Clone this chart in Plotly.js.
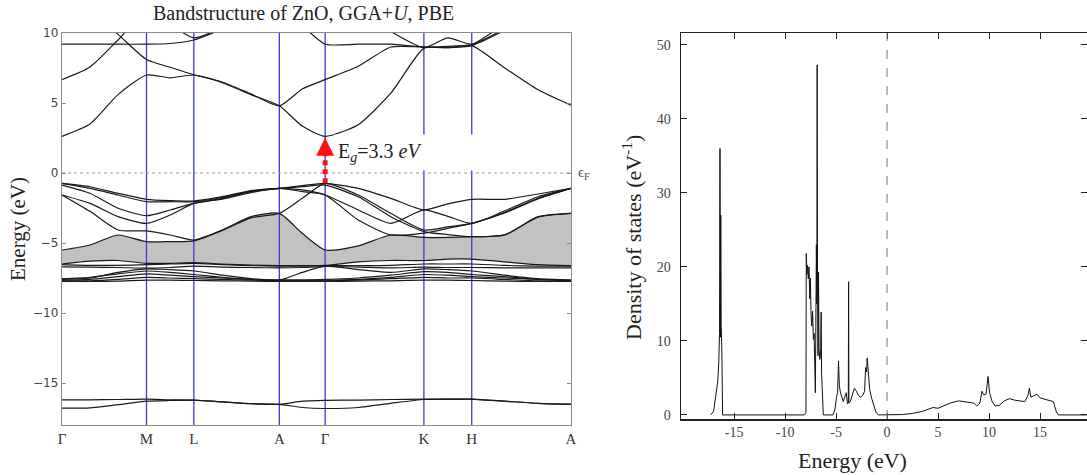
<!DOCTYPE html>
<html><head><meta charset="utf-8">
<script src="https://cdn.plot.ly/plotly-3.0.1.min.js"></script>
<style>html,body{margin:0;padding:0;background:#fff}#chart{width:1087px;height:475px}</style>
</head><body><div id="chart"></div>
<script>
// ---------- Band structure data ----------
const kPoints = [0, 0.166, 0.259, 0.427, 0.517, 0.711, 0.805, 1.0];
const kLabels = ['Γ', 'M', 'L', 'A', 'Γ', 'K', 'H', 'A'];
const kGrid = [0, 0.055, 0.11, 0.166, 0.2125, 0.259, 0.315, 0.371, 0.427, 0.472, 0.517, 0.582, 0.646, 0.711, 0.758, 0.805, 0.87, 0.935, 1.0];
const gammaIndex = 10;

// conduction bands
const bandC1 = [2.62, 3.5, 5.6, 7.0, 6.8, 7.0, 6.45, 5.6, 4.8, 3.35, 2.62, 3.45, 5.7, 8.9, 8.95, 9.1, 7.5, 5.95, 4.85];
const bandC2 = [6.67, 7.57, 9.5, 11.5, 10.6, 9.65, 10.4, 11.5, 11.5, 11.5, 11.5, 11.5, 10.1, 8.95, 9.65, 9.2, 10.3, 11.5, 11.5];
const bandC3 = [9.2, 9.2, 9.2, 9.2, 9.25, 9.5, 10.3, 11.5, 11.5, 10.5, 9.2, 9.2, 9.2, 9.0, 8.95, 9.1, 10.2, 11.5, 11.5];
const bandC4 = [11.5, 11.5, 9.9, 8.1, 7.55, 7.02, 6.5, 5.65, 4.8, 6.0, 6.67, 7.62, 9.0, 9.0, 9.05, 9.17, 10.6, 11.5, 11.5];
// O 2p valence bands
const bandA1 = [-0.74, -0.98, -1.45, -1.88, -1.98, -2.0, -1.69, -1.26, -1.1, -0.9, -0.74, -1.1, -1.81, -2.64, -2.2, -1.88, -1.88, -1.5, -1.1];
const bandA2 = [-1.57, -2.74, -4.07, -4.14, -4.43, -4.79, -4.1, -3.2, -2.88, -1.81, -0.74, -1.57, -2.88, -4.07, -3.85, -3.6, -2.8, -1.8, -1.1];
const bandA3 = [-0.86, -1.45, -2.52, -3.05, -2.64, -2.17, -1.81, -1.33, -1.1, -0.98, -0.86, -1.7, -3.12, -4.19, -4.4, -4.55, -4.4, -3.15, -2.88];
const bandA4 = [-0.74, -1.1, -1.57, -2.05, -2.05, -2.05, -1.75, -1.3, -1.1, -1.21, -1.57, -2.64, -3.6, -2.64, -3.1, -3.6, -2.7, -1.7, -1.1];
const bandA5 = [-1.57, -2.17, -3.12, -3.6, -3.0, -2.17, -1.86, -1.4, -1.1, -1.33, -1.57, -3.36, -4.43, -4.3, -3.95, -3.6, -2.85, -1.85, -1.1];
const bandA6 = [-5.5, -5.14, -4.43, -4.9, -4.9, -4.85, -4.07, -3.12, -2.88, -4.31, -5.5, -5.2, -4.43, -4.6, -4.6, -4.55, -4.43, -3.12, -2.88];
// Zn 3d bands
const bandD1 = [-6.5, -6.3, -6.25, -6.45, -6.45, -6.4, -6.5, -6.58, -6.62, -6.62, -6.6, -6.35, -6.25, -6.25, -6.15, -6.15, -6.35, -6.55, -6.62];
const bandD2 = [-6.55, -6.6, -6.6, -6.55, -6.5, -6.45, -6.55, -6.62, -6.65, -6.65, -6.62, -6.62, -6.6, -6.5, -6.5, -6.5, -6.6, -6.65, -6.65];
const bandD3 = [-6.7, -6.72, -6.75, -6.8, -6.75, -6.65, -6.72, -6.75, -6.78, -6.75, -6.68, -6.72, -6.78, -6.72, -6.75, -6.75, -6.78, -6.78, -6.78];
const bandD4 = [-7.6, -7.5, -7.1, -6.85, -6.9, -7.0, -7.3, -7.55, -7.65, -7.1, -6.65, -6.9, -7.1, -6.85, -6.9, -7.0, -7.3, -7.55, -7.65];
const bandD5 = [-7.55, -7.45, -7.2, -7.0, -7.1, -7.25, -7.45, -7.6, -7.65, -7.65, -7.6, -7.5, -7.3, -7.05, -7.1, -7.25, -7.4, -7.6, -7.65];
const bandD6 = [-7.65, -7.6, -7.4, -7.2, -7.3, -7.4, -7.5, -7.6, -7.65, -7.65, -7.65, -7.6, -7.45, -7.25, -7.3, -7.4, -7.5, -7.6, -7.7];
const bandD7 = [-7.7, -7.7, -7.6, -7.45, -7.5, -7.55, -7.6, -7.65, -7.7, -7.7, -7.7, -7.65, -7.55, -7.45, -7.5, -7.5, -7.6, -7.7, -7.72];
const bandD8 = [-7.75, -7.75, -7.72, -7.65, -7.65, -7.68, -7.7, -7.72, -7.75, -7.75, -7.75, -7.72, -7.7, -7.65, -7.65, -7.68, -7.72, -7.75, -7.75];
// O 2s bands
const bandS1 = [-16.2, -16.2, -16.18, -16.15, -16.2, -16.22, -16.35, -16.48, -16.52, -16.3, -16.24, -16.22, -16.18, -16.15, -16.14, -16.15, -16.3, -16.45, -16.5];
const bandS2 = [-16.8, -16.78, -16.55, -16.3, -16.25, -16.22, -16.35, -16.48, -16.52, -16.75, -16.82, -16.75, -16.45, -16.18, -16.18, -16.15, -16.3, -16.45, -16.52];

const energyRange = [-18, 10];
const energyTicks = [-15, -10, -5, 0, 5, 10];

// ---------- DOS data ----------
const dosEnergy = [-17.3, -17.0, -16.8, -16.6, -16.5, -16.42, -16.38, -16.34, -16.3, -16.26, -16.2, -16.12, -16.0,
  -8.1, -7.95, -7.92, -7.85, -7.8, -7.72, -7.65, -7.58, -7.52, -7.45, -7.38, -7.3, -7.22, -7.15, -7.08, -7.03, -6.98, -6.93, -6.88, -6.85, -6.82, -6.77, -6.72, -6.67, -6.6, -6.52, -6.46, -6.42, -6.36, -6.3, -6.25,
  -5.3, -5.1, -4.95, -4.85, -4.76, -4.68, -4.58, -4.45, -4.3, -4.15, -4.0, -3.88, -3.8, -3.77, -3.74, -3.6, -3.4, -3.2, -3.0, -2.8, -2.6, -2.4, -2.2, -2.1, -2.0, -1.95, -1.88, -1.8, -1.7, -1.5, -1.3, -1.1, -0.85,
  0.9, 1.5, 2.5, 3.5, 4.5, 5.0, 5.5, 6.2, 7.0, 7.5, 8.0, 8.5, 8.8, 9.1, 9.3, 9.5, 9.7, 9.9, 10.05, 10.3, 10.6, 11.0, 11.5, 12.0, 12.5, 13.0, 13.5, 13.8, 13.95, 14.1, 14.4, 14.7, 15.0, 15.5, 16.0, 16.3, 16.6, 16.8, 19.6];
const dosValue = [0, 0.5, 2.5, 4.5, 7, 11, 36, 10.5, 27, 12, 9, 0, 0,
  0, 0.3, 21.8, 19, 20.2, 18.4, 20, 15.7, 18.5, 13.5, 12, 14, 10.2, 11, 5, 3, 12, 23, 15, 47.3, 20, 8, 19.3, 9, 7.5, 8, 13.9, 5.7, 4, 0.5, 0,
  0, 0.8, 2.5, 3.0, 7.3, 4.0, 3.1, 2.4, 1.8, 2.4, 3.0, 1.5, 1.6, 18, 1.6, 1.8, 2.8, 3.6, 3.2, 2.6, 2.4, 2.6, 3.2, 6.4, 5.8, 7.7, 6.5, 5.2, 3.4, 2.2, 1.1, 0.4, 0,
  0, 0.05, 0.2, 0.5, 1.0, 0.9, 1.2, 1.6, 1.9, 1.8, 1.7, 1.6, 1.2, 1.6, 3.2, 2.7, 2.8, 5.2, 3.0, 1.8, 1.2, 1.3, 1.9, 2.2, 2.0, 1.9, 1.8, 2.6, 3.6, 2.4, 2.6, 2.8, 2.3, 2.1, 1.9, 1.8, 0.4, 0, 0];
const dosRange = [-20.2, 19.6];
const dosTickVals = [-15, -10, -5, 0, 5, 10, 15];
const dosTickText = ['-15', '-10', '-5', '0', '5', '10', '15'];
const dosYRange = [-0.55, 51.6];
const dosYTicks = [0, 10, 20, 30, 40, 50];

// ---------- build ----------
const W = 1087, H = 475;
const px = v => v / W, py = v => 1 - v / H;
const SERIF = 'Liberation Serif, Times New Roman, serif';
const SANS = 'DejaVu Sans, Verdana, sans-serif';

const conduction = [bandC1, bandC2, bandC3, bandC4];
const valence = [bandA1, bandA2, bandA3, bandA4, bandA5, bandA6, bandD1, bandD2, bandD3, bandD4, bandD5, bandD6, bandD7, bandD8, bandS1, bandS2];
const vbm = Math.max(...[bandA1, bandA2, bandA3, bandA4, bandA5].map(b => b[gammaIndex]));
const cbm = Math.min(...conduction.map(b => b[gammaIndex]));
const kGamma = kPoints[4];

const traces = [];
traces.push({x: kGrid, y: bandD1, mode: 'lines', line: {width: 0, color: 'rgba(0,0,0,0)', shape: 'spline', smoothing: 0.6}, hoverinfo: 'skip', showlegend: false});
traces.push({x: kGrid, y: bandA6, mode: 'lines', fill: 'tonexty', fillcolor: '#c2c2c2', line: {width: 0, color: 'rgba(0,0,0,0)', shape: 'spline', smoothing: 0.6}, hoverinfo: 'skip', showlegend: false});
kPoints.slice(1, -1).forEach(k => traces.push({x: [k, k], y: energyRange, mode: 'lines', line: {color: '#3a3ad8', width: 1.3}, hoverinfo: 'skip', showlegend: false}));
traces.push({x: [kPoints[0], kPoints[kPoints.length - 1]], y: [0, 0], mode: 'lines', line: {color: '#9a9a9a', width: 1.2, dash: 'dot'}, hoverinfo: 'skip', showlegend: false});
conduction.concat(valence).forEach(b => traces.push({x: kGrid, y: b, mode: 'lines', line: {color: '#1a1a1a', width: 1.2, shape: 'spline', smoothing: 0.6}, hoverinfo: 'skip', showlegend: false}));
traces.push({x: [kGamma, kGamma], y: [vbm, vbm + 0.6 * (cbm - vbm)], mode: 'lines', line: {color: '#ff1010', width: 5, dash: '5px,4px'}, hoverinfo: 'skip', showlegend: false});
traces.push({x: dosEnergy, y: dosValue, xaxis: 'x2', yaxis: 'y2', mode: 'lines', line: {color: '#111', width: 1}, hoverinfo: 'skip', showlegend: false});

const layout = {
  width: W, height: H, margin: {l: 0, r: 0, t: 0, b: 0},
  paper_bgcolor: '#fff', plot_bgcolor: '#fff', showlegend: false,
  xaxis: {domain: [px(62), px(571)], range: [0, 1], tickvals: kPoints, ticktext: kLabels, ticks: '', showgrid: false, zeroline: false,
    showline: true, linecolor: '#8a8a8a', linewidth: 1.3, mirror: true, tickfont: {family: SERIF, size: 15, color: '#333'}},
  yaxis: {domain: [py(425), py(33)], range: energyRange, tickvals: energyTicks, ticks: 'inside', ticklen: 4, tickcolor: '#8a8a8a',
    showgrid: false, zeroline: false, showline: true, linecolor: '#8a8a8a', linewidth: 1.3, mirror: 'ticks', tickfont: {family: SANS, size: 12, color: '#444'}},
  xaxis2: {domain: [px(681), 1], range: dosRange, anchor: 'y2', tickvals: dosTickVals, ticktext: dosTickText, ticks: 'inside', ticklen: 6, tickcolor: '#222',
    showgrid: false, zeroline: false, showline: true, linecolor: '#222', linewidth: 1.5, mirror: 'ticks', tickfont: {family: SERIF, size: 14, color: '#444'}},
  yaxis2: {domain: [py(419), py(33)], range: dosYRange, anchor: 'x2', tickvals: dosYTicks, ticks: 'inside', ticklen: 6, tickcolor: '#222', ticklabelstandoff: 6,
    showgrid: false, zeroline: false, showline: true, linecolor: '#222', linewidth: 1.5, mirror: 'ticks', tickfont: {family: SERIF, size: 14, color: '#444'}},
  shapes: [
    {type: 'line', xref: 'x2', yref: 'y2 domain', x0: 0, x1: 0, y0: 0, y1: 1, line: {color: '#777', width: 1, dash: 'dash'}}
  ],
  annotations: [
    {text: 'Bandstructure of ZnO, GGA+<i>U</i>, PBE', xref: 'paper', yref: 'paper', x: px(303), y: py(13), xanchor: 'center', yanchor: 'middle', showarrow: false, font: {family: SERIF, size: 20, color: '#222'}},
    {text: 'Energy (eV)', xref: 'paper', yref: 'paper', x: px(18), y: py(229), textangle: -90, xanchor: 'center', yanchor: 'middle', showarrow: false, font: {family: SERIF, size: 21, color: '#222'}},
    {text: 'ϵ<sub>F</sub>', xref: 'paper', yref: 'y', x: px(576), y: 0, xanchor: 'left', yanchor: 'middle', showarrow: false, font: {family: SERIF, size: 15, color: '#555'}},
    {text: 'E<sub><i>g</i></sub>=3.3 <i>eV</i>', xref: 'x', yref: 'y', x: kGamma, xshift: 8, y: 1.45, xanchor: 'left', yanchor: 'middle', width: 150, height: 27, align: 'left', borderpad: 4,
      bgcolor: '#fff', showarrow: false, font: {family: SERIF, size: 20, color: '#222'}},
    {text: '', xref: 'x', yref: 'y', axref: 'x', ayref: 'y', x: kGamma, y: cbm - 0.1, ax: kGamma, ay: vbm + 0.6 * (cbm - vbm), showarrow: true,
      arrowhead: 2, arrowwidth: 3, arrowsize: 1.2, arrowcolor: '#ff1010'},
    {text: 'Energy (eV)', xref: 'paper', yref: 'paper', x: px(852), y: py(460), xanchor: 'center', yanchor: 'middle', showarrow: false, font: {family: SERIF, size: 22, color: '#222'}},
    {text: 'Density of states (eV<sup>-1</sup>)', xref: 'paper', yref: 'paper', x: px(632), y: py(238), textangle: -90, xanchor: 'center', yanchor: 'middle', showarrow: false, font: {family: SERIF, size: 22, color: '#222'}}
  ]
};

Plotly.newPlot('chart', traces, layout, {staticPlot: true, displayModeBar: false});
</script></body></html>
